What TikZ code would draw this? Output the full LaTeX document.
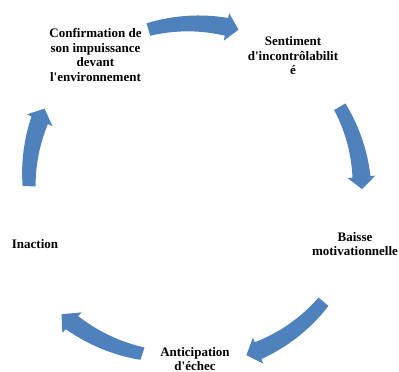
\documentclass[tikz,border=0pt]{standalone}
\usepackage{fontspec}
\setmainfont{Liberation Serif}[Ligatures=TeXOff]
\definecolor{arrowblue}{HTML}{4F81BD}
\begin{document}
\begin{tikzpicture}[x=1pt,y=1pt,
  lbl/.style={font=\bfseries\fontsize{13}{14.5}\selectfont, align=center, inner sep=0pt},
  cyc/.style={fill=arrowblue}]
\useasboundingbox[fill=white] (0,0) rectangle (399,372);
\coordinate (c) at (195,180);
\foreach \a/\b/\ra/\rb in {106/75/169/168, 30.5/1/168/167, -40.5/-72.5/169/171, -108/-137.5/170/181, 178/151/166/172}{
  \pgfmathsetmacro\h{\b+4.2}
  \pgfmathsetmacro\rh{\ra+(\rb-\ra)*(\a-\h)/(\a-\b)}
  \fill[cyc,shift={(c)}]
    plot[domain=\a:\h, samples=25, variable=\t] (\t:{\ra+(\rh-\ra)*(\a-\t)/(\a-\h)+6.5+2.5*(\a-\t)/(\a-\h)})
    -- (\h:\rh+14) -- (\b:\rb) -- (\h:\rh-14)
    -- plot[domain=\h:\a, samples=25, variable=\t] (\t:{\ra+(\rh-\ra)*(\a-\t)/(\a-\h)-6.5-2.5*(\a-\t)/(\a-\h)})
    -- cycle;
}
\node[lbl] (conf) at (95.5,317) {Confirmation de\\son impuissance\\devant\\l'environnement};
\node[lbl] (sent) at (293,316) {Sentiment\\d'incontrôlabilit\\é};
\node[lbl] (bais) at (355,128) {Baisse\\motivationnelle};
\node[lbl] (inac) at (35,128) {Inaction};
\node[lbl] (anti) at (195,13) {Anticipation\\d'échec};
\end{tikzpicture}
\end{document}
